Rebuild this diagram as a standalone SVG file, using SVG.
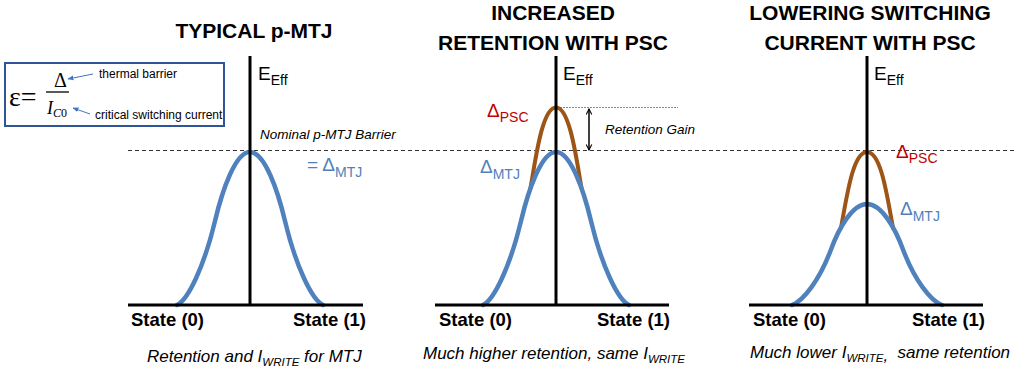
<svg xmlns="http://www.w3.org/2000/svg" width="1024" height="370" viewBox="0 0 1024 370">
<defs>
<style>
.title{font-family:"Liberation Sans",Arial,sans-serif;font-weight:bold;font-size:21px;fill:#000;text-anchor:middle}
.state{font-family:"Liberation Sans",Arial,sans-serif;font-weight:bold;font-size:18.5px;fill:#000}
.cap{font-family:"Liberation Sans",Arial,sans-serif;font-style:italic;font-size:17px;fill:#000}
.sub{font-size:11.5px}
.note{font-family:"Liberation Sans",Arial,sans-serif;font-style:italic;font-size:13.5px;fill:#000}
.eff{font-family:"Liberation Sans",Arial,sans-serif;font-size:19px;fill:#000}
.dl{font-family:"Liberation Sans",Arial,sans-serif;font-size:19px}
.blue{fill:#4F81BD}
.red{fill:#C00000}
.small{font-family:"Liberation Sans",Arial,sans-serif;font-size:12px;fill:#000}
.serif{font-family:"Liberation Serif","Times New Roman",serif;fill:#000}
.axis{stroke:#000;stroke-width:3;fill:none}
.cb{stroke:#4F81BD;stroke-width:4.5;fill:none;stroke-linecap:round}
.cr{stroke:#9C5516;stroke-width:4;fill:none;stroke-linecap:round}
.dash{stroke:#333;stroke-width:1;stroke-dasharray:4 3;fill:none}
.dot{stroke:#888;stroke-width:1;stroke-dasharray:2 1;fill:none}
</style>
<marker id="chev" viewBox="0 0 10 10" refX="9" refY="5" markerWidth="7" markerHeight="7" orient="auto-start-reverse" markerUnits="userSpaceOnUse">
<path d="M1,1 L9,5 L1,9" fill="none" stroke="#000" stroke-width="1.5"/>
</marker>
<marker id="barr" viewBox="0 0 10 10" refX="9" refY="5" markerWidth="6" markerHeight="6" orient="auto" markerUnits="userSpaceOnUse">
<path d="M0,1 L10,5 L0,9 Z" fill="#4472C4"/>
</marker>
</defs>
<rect width="1024" height="370" fill="#fff"/>

<g id="formula">
<rect x="5" y="63" width="219" height="63" fill="#fff" stroke="#2E5597" stroke-width="2"/>
<text class="serif" x="9" y="106" font-size="28">ε=</text>
<text class="serif" x="60.5" y="87" font-size="20" text-anchor="middle">Δ</text>
<line x1="46" y1="92" x2="69" y2="92" stroke="#000" stroke-width="1.3"/>
<text class="serif" x="47" y="114" font-size="18" font-style="italic">I<tspan font-size="12" dy="3">C</tspan><tspan font-size="12" font-style="normal">0</tspan></text>
<text class="small" x="99" y="78">thermal barrier</text>
<text class="small" x="95" y="119" font-size="11.5">critical switching current</text>
<line x1="93" y1="74" x2="68" y2="79" stroke="#4472C4" stroke-width="1" marker-end="url(#barr)"/>
<line x1="90" y1="114" x2="73" y2="108" stroke="#4472C4" stroke-width="1" marker-end="url(#barr)"/>
</g>

<g id="connectors">
<line class="dash" x1="128" y1="150.5" x2="1015" y2="150.5"/>
<line class="dot" x1="560" y1="107.5" x2="678" y2="107.5"/>
<line x1="589" y1="109" x2="589" y2="150" stroke="#000" stroke-width="1.5" marker-start="url(#chev)" marker-end="url(#chev)"/>
</g>

<g id="panel1">
<text class="title" x="254" y="38">TYPICAL p-MTJ</text>
<path class="cb" d="M177,305 C188,300 204,266.8 215,220.9 C222.3,190.3 235.4,152 250,152 C264.6,152 277.7,190.3 285,220.9 C296,266.8 312,300 323,305"/>
<line class="axis" x1="250" y1="56" x2="250" y2="306"/>
<line class="axis" x1="128" y1="305" x2="363" y2="305"/>
<text class="eff" x="258" y="80">E<tspan font-size="14" dy="5">Eff</tspan></text>
<text class="note" x="260" y="139">Nominal p-MTJ Barrier</text>
<text class="dl blue" x="307" y="171">= Δ<tspan font-size="14" dy="5.5">MTJ</tspan></text>
<text class="state" x="131" y="326">State (0)</text>
<text class="state" x="293" y="326">State (1)</text>
<text class="cap" x="147" y="362">Retention and I<tspan class="sub" dy="4">WRITE</tspan><tspan dy="-4"> for MTJ</tspan></text>
</g>

<g id="panel2">
<text class="title" x="553" y="20">INCREASED</text>
<text class="title" x="553" y="50">RETENTION WITH PSC</text>
<path class="cr" d="M530.5,188 C535.5,160 542,107.5 556,107.5 C570,107.5 576.5,160 581.5,188"/>
<path class="cb" d="M483,305 C494,300 510,266.8 521,220.9 C528.3,190.3 541.4,152 556,152 C570.6,152 583.7,190.3 591,220.9 C602,266.8 618,300 629,305"/>
<line class="axis" x1="556" y1="56" x2="556" y2="306"/>
<line class="axis" x1="435" y1="305" x2="669" y2="305"/>
<text class="eff" x="563" y="80">E<tspan font-size="14" dy="5">Eff</tspan></text>
<text class="dl red" x="487" y="116.5">Δ<tspan font-size="14" dy="5">PSC</tspan></text>
<text class="dl blue" x="480" y="173">Δ<tspan font-size="14" dy="5.5">MTJ</tspan></text>
<text class="note" x="605" y="134">Retention Gain</text>
<text class="state" x="439" y="326">State (0)</text>
<text class="state" x="597" y="326">State (1)</text>
<text class="cap" x="423" y="359">Much higher retention, same I<tspan class="sub" dy="4">WRITE</tspan></text>
</g>

<g id="panel3">
<text class="title" x="870" y="20">LOWERING SWITCHING</text>
<text class="title" x="870" y="50">CURRENT WITH PSC</text>
<path class="cr" d="M841,228 C847,195 853,152 867,152 C881,152 887,195 893,228"/>
<path class="cb" d="M792,305 C803.25,301 819.75,279.75 831,249.45 C838.5,229.25 852,204 867,204 C882,204 895.5,229.25 903,249.45 C914.25,279.75 930.75,301 942,305"/>
<line class="axis" x1="867" y1="56" x2="867" y2="306"/>
<line class="axis" x1="749" y1="305" x2="983" y2="305"/>
<text class="eff" x="874" y="80">E<tspan font-size="14" dy="5">Eff</tspan></text>
<text class="dl red" x="896" y="158">Δ<tspan font-size="14" dy="5">PSC</tspan></text>
<text class="dl blue" x="900" y="215">Δ<tspan font-size="14" dy="5.5">MTJ</tspan></text>
<text class="state" x="753" y="326">State (0)</text>
<text class="state" x="912" y="326">State (1)</text>
<text class="cap" x="750" y="358" xml:space="preserve">Much lower I<tspan class="sub" dy="4">WRITE</tspan><tspan dy="-1">,</tspan><tspan dy="-3">  same retention</tspan></text>
</g>
</svg>
